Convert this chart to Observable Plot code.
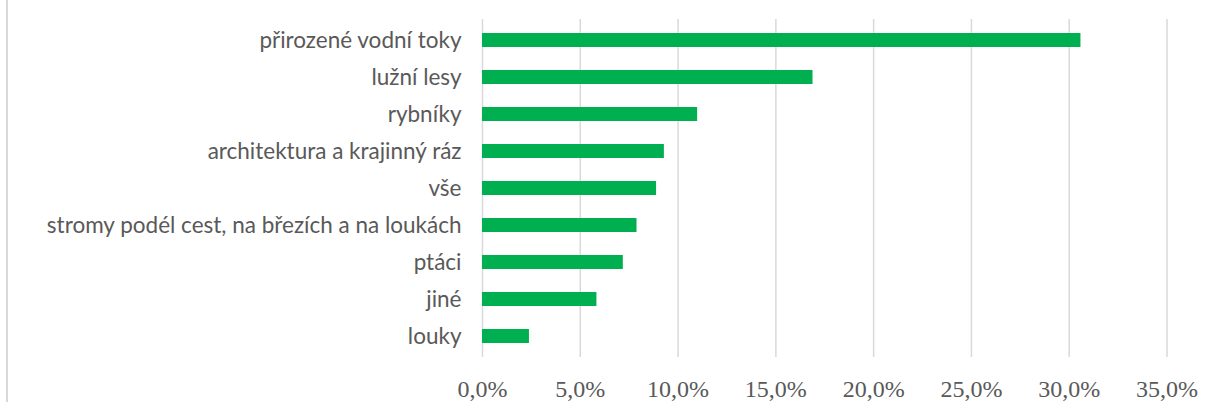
<!DOCTYPE html>
<html>
<head>
<meta charset="utf-8">
<script src="https://cdn.jsdelivr.net/npm/d3@7"></script>
<script src="https://cdn.jsdelivr.net/npm/@observablehq/plot@0.6"></script>
<style>
  html, body { margin: 0; padding: 0; background: #fff; }
  #chart { position: relative; width: 1206px; height: 402px; overflow: hidden; }
  #frame { position: absolute; left: 6px; top: 0; width: 1.5px; height: 402px; background: #d9d9d9; }
  svg { display: block; }
</style>
</head>
<body>
<div id="chart"><div id="frame"></div></div>
<script>
const categories = [
  "přirozené vodní toky",
  "lužní lesy",
  "rybníky",
  "architektura a krajinný ráz",
  "vše",
  "stromy podél cest, na březích a na loukách",
  "ptáci",
  "jiné",
  "louky"
];
const values = [30.6, 16.9, 11.0, 9.3, 8.9, 7.9, 7.2, 5.85, 2.4];
const xTicks = [0, 5, 10, 15, 20, 25, 30, 35];

const data = categories.map((c, i) => ({category: c, value: values[i]}));
const fmt = d => d.toFixed(1).replace(".", ",") + "%";

const chart = Plot.plot({
  width: 1206,
  height: 402,
  marginLeft: 482,
  marginRight: 39.5,
  marginTop: 19,
  marginBottom: 45,
  style: {background: "transparent", overflow: "visible"},
  x: {domain: [0, 35], ticks: xTicks},
  y: {domain: categories, paddingInner: 0.61, paddingOuter: 0.305},
  marks: [
    Plot.gridX(xTicks, {stroke: "#d9d9d9", strokeOpacity: 1, strokeWidth: 1.5}),
    Plot.barX(data, {x: "value", y: "category", fill: "#00b050"}),
    Plot.axisX(xTicks, {
      tickSize: 0, tickPadding: 22, tickFormat: fmt,
      fontSize: 24, fontFamily: "Liberation Serif", fill: "#595959", label: null
    }),
    Plot.axisY({
      tickSize: 0, tickPadding: 21,
      fontSize: 22.5, fontFamily: "Lato", fill: "#595959", label: null
    })
  ]
});
document.getElementById("chart").appendChild(chart);
</script>
</body>
</html>
